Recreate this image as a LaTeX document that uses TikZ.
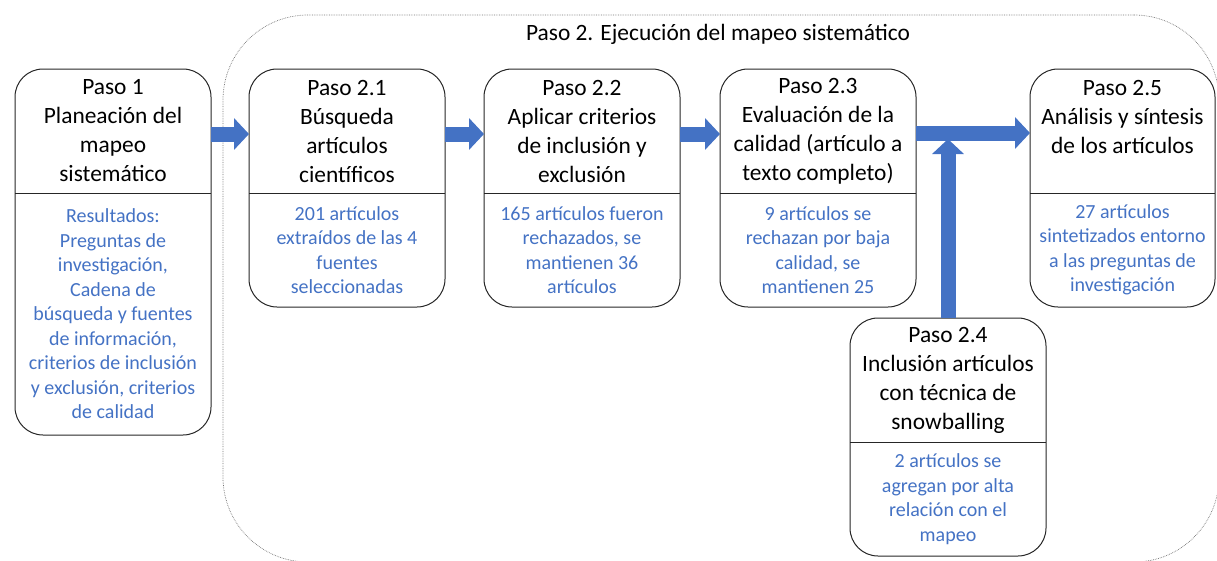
\documentclass[tikz,border=0pt]{standalone}
\usepackage{fontspec}
\setmainfont{Carlito}
\usepackage{xcolor}
\usetikzlibrary{fit,calc,positioning,arrows.meta}
\definecolor{azul}{RGB}{68,114,196}

\begin{document}
\begin{tikzpicture}[x=1pt,y=-1pt,node distance=0pt,every node/.style={outer sep=0pt},
  cab/.style={minimum width=196pt, minimum height=124pt, align=center, inner sep=0pt, font=\fontsize{23.4}{29}\selectfont},
  cuerpo/.style={minimum width=196pt, minimum height=114pt, align=center, inner sep=0pt, text=azul, font=\fontsize{20}{24.5}\selectfont},
  caja/.style={draw=black!85, line width=1pt, rounded corners=28pt, inner sep=0pt},
  linea/.style={draw=black!85, line width=1pt},
  flecha/.style={azul, line width=15pt, -{Triangle[length=15pt,width=31pt]}}]

  \clip (0,0) rectangle (1217,560);

  % Paso 2
  \node(E)[draw=black!55, densely dotted, line width=0.7pt, rounded corners=85pt, minimum width=996pt, minimum height=547pt, anchor=north west] at (223,15) {};
  \node(T)[below=6pt of E.north, xshift=-3pt, font=\fontsize{23.4}{29}\selectfont] {Paso 2. Ejecución del mapeo sistemático};

  % Paso 1
  \node(A1)[cab, anchor=north west] at (15,69) {Paso 1\\Planeación del\\mapeo\\sistemático};
  \node(B1)[cuerpo, below=of A1, minimum height=242pt] {Resultados:\\Preguntas de\\investigación,\\Cadena de\\búsqueda y fuentes\\de información,\\criterios de inclusión\\y exclusión, criterios\\de calidad};
  \node(C1)[caja, fit=(A1)(B1)] {};
  \draw[linea] (A1.south west) -- (A1.south east);

  % Paso 2.1
  \node(A21)[cab, right=38pt of A1] {Paso 2.1\\Búsqueda\\artículos\\científicos};
  \node(B21)[cuerpo, below=of A21] {201 artículos\\extraídos de las 4\\fuentes\\seleccionadas};
  \node(C21)[caja, fit=(A21)(B21)] {};
  \draw[linea] (A21.south west) -- (A21.south east);

  % Paso 2.2
  \node(A22)[cab, right=39pt of A21] {Paso 2.2\\Aplicar criterios\\de inclusión y\\exclusión};
  \node(B22)[cuerpo, below=of A22] {165 artículos fueron\\rechazados, se\\mantienen 36\\artículos};
  \node(C22)[caja, fit=(A22)(B22)] {};
  \draw[linea] (A22.south west) -- (A22.south east);

  % Paso 2.3
  \node(A23)[cab, right=40pt of A22] {Paso 2.3\\Evaluación de la\\calidad (artículo a\\texto completo)};
  \node(B23)[cuerpo, below=of A23] {9 artículos se\\rechazan por baja\\calidad, se\\mantienen 25};
  \node(C23)[caja, fit=(A23)(B23)] {};
  \draw[linea] (A23.south west) -- (A23.south east);

  % Paso 2.5
  \node(A25)[cab, right=114pt of A23, minimum width=185pt] {Paso 2.5\\Análisis y síntesis\\de los artículos\\ \mbox{}};
  \node(B25)[cuerpo, below=of A25, minimum width=185pt] {27 artículos\\sintetizados entorno\\a las preguntas de\\investigación};
  \node(C25)[caja, fit=(A25)(B25)] {};
  \draw[linea] (A25.south west) -- (A25.south east);

  % Paso 2.4
  \node(A24)[cab, below=11pt of B23, xshift=130pt] {Paso 2.4\\Inclusión artículos\\con técnica de\\snowballing};
  \node(B24)[cuerpo, below=of A24] {2 artículos se\\agregan por alta\\relación con el\\mapeo};
  \node(C24)[caja, fit=(A24)(B24)] {};
  \draw[linea] (A24.south west) -- (A24.south east);

  \draw[flecha] ([yshift=-3pt]A1.east) -- ([yshift=-3pt]A21.west);
  \draw[flecha] ([yshift=-3pt]A21.east) -- ([yshift=-3pt]A22.west);
  \draw[flecha] ([yshift=-3pt]A22.east) -- ([yshift=-3pt]A23.west);
  \draw[flecha] ([yshift=-2pt]A23.east) -- ([yshift=-2pt]A25.west);
  \coordinate(X) at (A24 |- A23.east);
  \draw[flecha, shorten >=8pt] (A24) -- (X);
\end{tikzpicture}
\end{document}
